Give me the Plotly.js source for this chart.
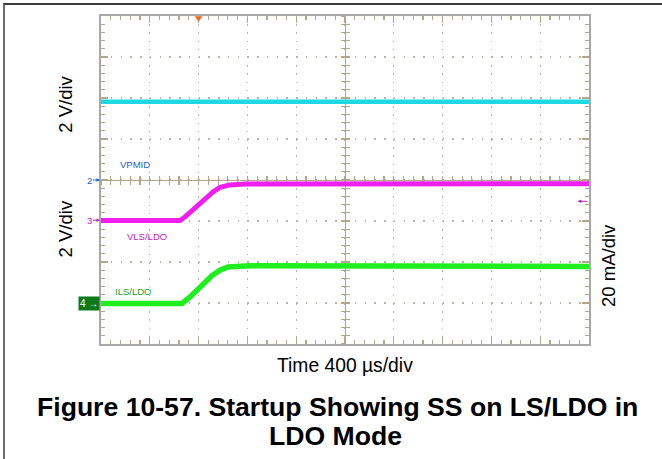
<!DOCTYPE html>
<html>
<head>
<meta charset="utf-8">
<script src="https://cdn.plot.ly/plotly-3.0.1.min.js"></script>
<style>
  html, body { margin:0; padding:0; background:#fff; }
  #wrap { position:relative; width:662px; height:459px; overflow:hidden; }
  #chart { position:absolute; left:0; top:0; width:662px; height:459px; }
  #frame { position:absolute; left:3px; top:3px; width:670px; height:470px;
           border-top:2px solid #3c3c3c; border-left:2px solid #6a6a6a; pointer-events:none; }
</style>
</head>
<body>
<div id="wrap"><div id="chart"></div><div id="frame"></div></div>
<script>
// ---- data (time in µs, amplitude in scope divisions) ----
const timeRange = [0, 4000];          // 10 div x 400 µs/div
const divRange = [-4, 4];             // 8 vertical divisions

const vpmidTime = [0, 4000];
const vpmidDiv  = [1.91, 1.91];

const vlsTime = [0, 648, 689, 811, 918, 975, 1057, 1180, 4000];
const vlsDiv  = [-0.99, -0.99, -0.90, -0.56, -0.29, -0.18, -0.12, -0.10, -0.09];

const ilsTime = [0, 664, 730, 852, 910, 975, 1041, 1221, 4000];
const ilsDiv  = [-3.01, -3.01, -2.85, -2.48, -2.33, -2.20, -2.12, -2.09, -2.11];

const triggerTime = [800];
const channelRefs = {ch2: 0, ch3: -0.98, ch4: -3.0, trig: -0.52};

const seriesLabels = ['VPMID', 'VLS/LDO', 'ILS/LDO'];
const labelTime = [279, 373, 262];
const labelDiv  = [0.39, -1.38, -2.72];

// ---- styles ----
const tan = '#b3a78a';
const font = 'Liberation Sans, Arial, sans-serif';
const cCyan = '#1fd8e4', cMag = '#f01ef0', cGreen = '#1fee1f';
const cBlue = '#1f5fd0', cMagText = '#c41cc4', cGreenText = '#22a022';

const traces = [
  {x: vpmidTime, y: vpmidDiv, mode:'lines', line:{color:cCyan, width:4.5}, hoverinfo:'skip'},
  {x: vlsTime, y: vlsDiv, mode:'lines', line:{color:cMag, width:5}, hoverinfo:'skip'},
  {x: ilsTime, y: ilsDiv, mode:'lines', line:{color:cGreen, width:5.5}, hoverinfo:'skip'},
  {x: triggerTime, y: [divRange[1] - 0.05], mode:'markers', cliponaxis:false,
   marker:{symbol:'triangle-down', size:7, color:'#f2691e'}, hoverinfo:'skip'},
  {x: [], y: [], xaxis:'x2', yaxis:'y2', mode:'lines'},
  {x: [], y: [], xaxis:'x3', yaxis:'y3', mode:'lines'}
];

function centerAxis(range, dt, dir, extra) {
  return Object.assign({range: range, anchor:'free', position:0.5, showline:true, linecolor:tan, linewidth:1.3,
    ticks: dir, ticklen:4, tickwidth:1.2, tickcolor:tan, dtick: dt, tick0: 0,
    showgrid:false, zeroline:false, showticklabels:false, layer:'below traces', fixedrange:true}, extra);
}

function ann(o) {
  return Object.assign({showarrow:false, xanchor:'center', yanchor:'middle'}, o);
}
function refArrow(y, text, color, x, ax) {
  return {xref:'paper', x:x, y:y, text:text, showarrow:true, ax:ax, ay:0,
    arrowhead:2, arrowsize:0.7, arrowwidth:1, arrowcolor:color, standoff:0, startstandoff:0,
    font:{family:font, size:9.5, color:color}};
}

const annotations = [
  // series labels
  ann({x:labelTime[0], y:labelDiv[0], text:seriesLabels[0], font:{family:font, size:9.5, color:cBlue}}),
  ann({x:labelTime[1], y:labelDiv[1], text:seriesLabels[1], font:{family:font, size:9.5, color:cMagText}}),
  ann({x:labelTime[2], y:labelDiv[2], text:seriesLabels[2], font:{family:font, size:9.5, color:cGreenText}}),
  // channel reference markers
  refArrow(channelRefs.ch2, '2', cBlue, -0.002, -11),
  refArrow(channelRefs.ch3, '3', cMagText, -0.002, -11),
  ann({xref:'paper', x:0, y:channelRefs.ch4, text:'4 \u2192', xanchor:'right', xshift:-1,
   bgcolor:'#0d7a1a', borderpad:1, font:{family:font, size:10, color:'#ffffff'}}),
  refArrow(channelRefs.trig, '', '#b01cb0', 0.977, 11),
  // axis titles
  ann({xref:'paper', yref:'paper', x:-0.072, y:0.732, text:'2 V/div', textangle:-90,
   font:{family:font, size:18.5, color:'#000'}}),
  ann({xref:'paper', yref:'paper', x:-0.072, y:0.352, text:'2 V/div', textangle:-90,
   font:{family:font, size:18.5, color:'#000'}}),
  ann({xref:'paper', yref:'paper', x:1.041, y:0.238, text:'20 mA/div', textangle:-90,
   font:{family:font, size:18.5, color:'#000'}}),
  ann({xref:'paper', yref:'paper', x:0.5, y:-0.067, text:'Time 400 \u00b5s/div',
   font:{family:font, size:19.3, color:'#000'}}),
  // figure caption
  ann({xref:'paper', yref:'paper', x:0.484, y:-0.193, text:'<b>Figure 10-57. Startup Showing SS on LS/LDO in</b>',
   font:{family:font, size:26.6, color:'#000'}}),
  ann({xref:'paper', yref:'paper', x:0.480, y:-0.279, text:'<b>LDO Mode</b>',
   font:{family:font, size:26.6, color:'#000'}})
];

const layout = {
  width:662, height:459,
  margin:{l:101, r:73, t:16, b:115},
  paper_bgcolor:'rgba(0,0,0,0)', plot_bgcolor:'#ffffff',
  showlegend:false,
  font:{family:font},
  xaxis:{range:timeRange, dtick:400, tick0:0, showgrid:true, gridcolor:'#b4b4ac', gridwidth:1.3,
    griddash:'1.5px,6.7px', showline:true, linecolor:'#a8a8a8', linewidth:2, mirror:'ticks',
    ticks:'inside', ticklen:7, tickwidth:1.3, tickcolor:tan,
    minor:{ticks:'inside', ticklen:4, dtick:80, tick0:0, tickwidth:1.2, tickcolor:tan, showgrid:false},
    showticklabels:false, zeroline:false, layer:'below traces', fixedrange:true},
  yaxis:{range:divRange, dtick:1, tick0:0, showgrid:true, gridcolor:'#b4b4ac', gridwidth:1.3,
    griddash:'1.5px,8.26px', showline:true, linecolor:'#a8a8a8', linewidth:2, mirror:'ticks',
    ticks:'inside', ticklen:7, tickwidth:1.3, tickcolor:tan,
    minor:{ticks:'inside', ticklen:4, dtick:0.2, tick0:0, tickwidth:1.2, tickcolor:tan, showgrid:false},
    showticklabels:false, zeroline:false, layer:'below traces', fixedrange:true},
  xaxis2: centerAxis(timeRange, 80, 'outside', {overlaying:'x'}),
  yaxis2: centerAxis(divRange, 0.2, 'outside', {overlaying:'y'}),
  xaxis3: centerAxis(timeRange, 80, 'inside', {overlaying:'x'}),
  yaxis3: centerAxis(divRange, 0.2, 'inside', {overlaying:'y'}),
  annotations: annotations
};

Plotly.newPlot('chart', traces, layout, {staticPlot:true, displayModeBar:false});
</script>
</body>
</html>
